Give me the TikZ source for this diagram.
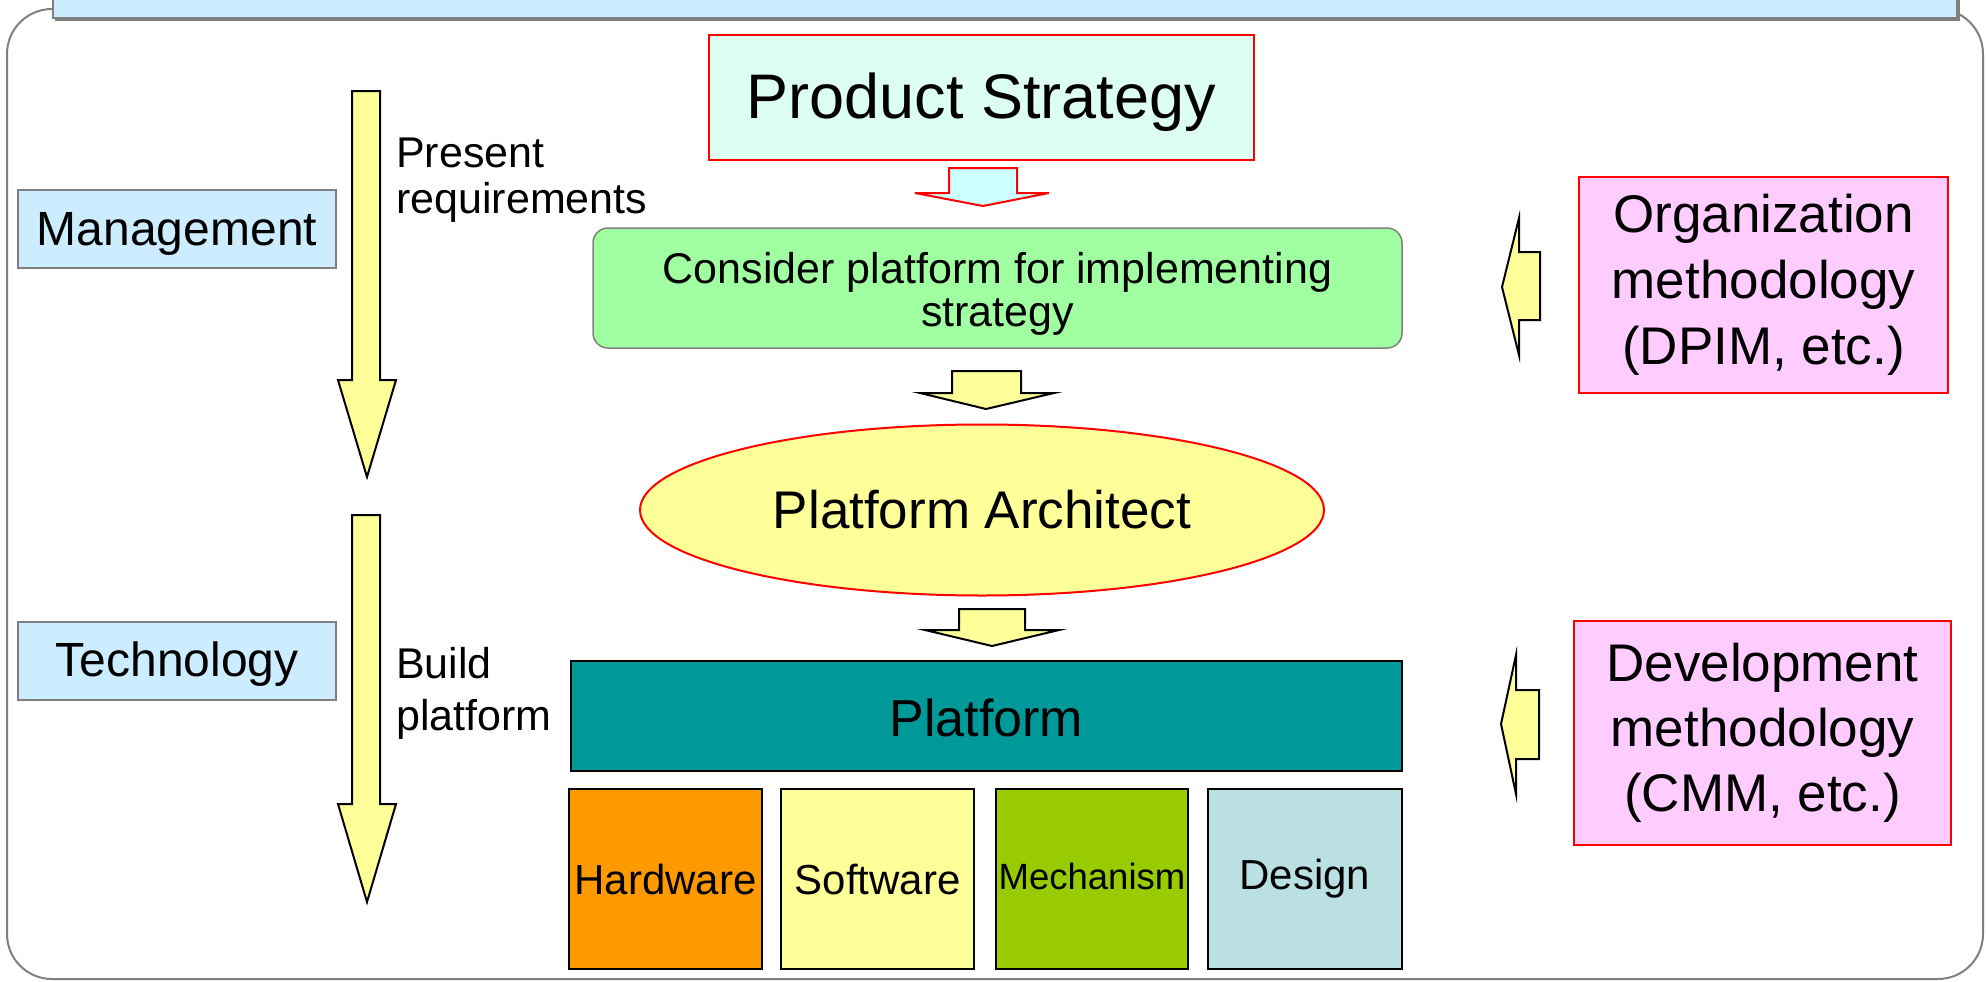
\documentclass[tikz,border=0pt]{standalone}
\usepackage{fontspec}
\setmainfont{Liberation Sans}
\usetikzlibrary{shapes.geometric}
\definecolor{lblue}{HTML}{CCECFF}
\definecolor{mint}{HTML}{DDFFF2}
\definecolor{lcyan}{HTML}{CCFFFF}
\definecolor{lgreen}{HTML}{A0FFA0}
\definecolor{lyellow}{HTML}{FFFF99}
\definecolor{teal2}{HTML}{009999}
\definecolor{pink2}{HTML}{FFCCFF}
\definecolor{orange2}{HTML}{FF9900}
\definecolor{olive2}{HTML}{99CC00}
\definecolor{grayblue}{HTML}{BBE0E3}
\definecolor{frame}{HTML}{808080}
\newcommand{\fs}[2]{\fontsize{#1}{#2}\selectfont}
\newcommand{\lowerby}[2]{\raisebox{-#1}[\height][\depth]{#2}}
\tikzset{
  boxnode/.style={rectangle, inner sep=0pt, align=center},
  sidebox/.style={boxnode, fill=lblue, draw=frame, line width=2pt},
  redbox/.style={boxnode, draw=red, line width=2pt},
  blkbox/.style={boxnode, draw=black, line width=2pt},
  yarrow/.style={fill=lyellow, draw=black, line width=2pt, line join=miter},
  rarrow/.style={fill=lcyan, draw=red, line width=2pt, line join=miter},
}
\begin{document}
\begin{tikzpicture}[x=1pt,y=-1pt]
\useasboundingbox (0,0) rectangle (1986,982);
% outer frame
\draw[frame, line width=2pt, rounded corners=45pt] (7,9) rectangle (1983,979);
% title bar
\fill[frame] (55,-20) rectangle (1960,21);
\draw[fill=lblue, draw=frame, line width=1.5pt] (53,-22) rectangle (1957,18);
% left labels
\node[sidebox, minimum width=318, minimum height=78, font=\fs{48}{56}] (mgmt) at (177,229) {\lowerby{5pt}{Management}};
\node[sidebox, minimum width=318, minimum height=78, font=\fs{48}{56}] (tech) at (177,661) {\lowerby{3pt}{Technology}};
% vertical yellow arrows
\draw[yarrow] (352,91) -- (380,91) -- (380,380) -- (396,380) -- (367,477) -- (338,380) -- (352,380) -- cycle;
\draw[yarrow] (352,515) -- (380,515) -- (380,804) -- (396,804) -- (367,902) -- (338,804) -- (352,804) -- cycle;
\node[anchor=north west, align=left, inner sep=0pt, font=\fs{43}{46}] (present) at (396,138) {Present\\requirements};
\node[anchor=north west, align=left, inner sep=0pt, font=\fs{43}{52}] (build) at (396,647) {Build\\platform};
% centre column
\node[redbox, fill=mint, minimum width=545, minimum height=125, font=\fs{63}{72}] (ps) at (981.5,97.5) {\lowerby{5pt}{Product Strategy}};
\draw[rarrow] (949,168) -- (1017,168) -- (1017,193) -- (1049,193) -- (983,206) -- (915,193) -- (949,193) -- cycle;
\node[boxnode, fill=lgreen, draw=frame, line width=1.5pt, rounded corners=15pt, minimum width=809, minimum height=120, font=\fs{43}{43}] (cons) at (997.5,288) {\lowerby{8pt}{\begin{tabular}{@{}c@{}}Consider platform for implementing\\strategy\end{tabular}}};
\draw[yarrow] (952,371) -- (1021,371) -- (1021,393) -- (1054,393) -- (986,409) -- (920,393) -- (952,393) -- cycle;
\node[ellipse, draw=red, line width=2pt, fill=lyellow, minimum width=684, minimum height=171, inner sep=0pt, font=\fs{53}{60}] (arch) at (982,510) {Platform Architect};
\draw[yarrow] (959,609) -- (1025,609) -- (1025,630) -- (1059,630) -- (992,646) -- (925,630) -- (959,630) -- cycle;
\node[blkbox, fill=teal2, minimum width=831, minimum height=110, font=\fs{52}{60}] (plat) at (986.5,716) {\lowerby{2pt}{Platform}};
\node[blkbox, fill=orange2, minimum width=193, minimum height=180, font=\fs{42}{48}] (hw) at (665.5,879) {Hardware};
\node[blkbox, fill=lyellow, minimum width=193, minimum height=180, font=\fs{42}{48}] (sw) at (877.5,879) {Software};
\node[blkbox, fill=olive2, minimum width=192, minimum height=180, font=\fs{36.5}{42}] (mech) at (1092,879) {\raisebox{3pt}[\height][\depth]{Mechanism}};
\node[blkbox, fill=grayblue, minimum width=194, minimum height=180, font=\fs{42}{48}] (des) at (1305,879) {Design};
% right boxes
\node[redbox, fill=pink2, minimum width=369, minimum height=216, font=\fs{53}{66}] (org) at (1763.5,285) {Organization\\methodology\\(DPIM, etc.)};
\node[redbox, fill=pink2, minimum width=377, minimum height=224, font=\fs{53}{65}] (dev) at (1762.5,733) {Development\\methodology\\(CMM, etc.)};
% left pointing arrows
\draw[yarrow] (1540,252) -- (1540,320) -- (1519,320) -- (1519,355) -- (1502,287) -- (1519,218) -- (1519,252) -- cycle;
\draw[yarrow] (1539,690) -- (1539,759) -- (1516,759) -- (1516,794) -- (1501,724) -- (1516,655) -- (1516,690) -- cycle;
\end{tikzpicture}
\end{document}
